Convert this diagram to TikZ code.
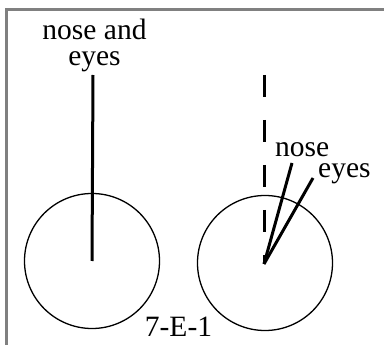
\documentclass[tikz,border=0pt]{standalone}
\usepackage{fontspec}
\setmainfont{Liberation Serif}
\begin{document}
\begin{tikzpicture}[x=1pt,y=-1pt,
  lbl/.style={inner sep=0pt, font=\fontsize{29.5}{26}\selectfont, align=center},
  head/.style={circle, draw=black, line width=1.3pt, minimum size=135pt, inner sep=0pt},
  ray/.style={line width=3pt},
  frame/.style={draw=black!50, line width=3pt}
]
\useasboundingbox (0,0) rectangle (384,345);
% frame (top and left edges)
\draw[frame] (6.5,345) -- (6.5,9.5) -- (384,9.5);
% left head
\node[head] (c1) at (92,261) {};
\coordinate (t1) at (93,75);
\draw[ray] (c1.center) -- (t1);
\node[lbl, anchor=base] (l1) at (94.5,66) {nose and\\eyes};
% right head
\node[head] (c2) at (265,263) {};
\coordinate (d2) at (264,75);
\draw[ray, dash pattern=on 22pt off 23pt] (d2) -- (264,264);
\coordinate (n2) at (292,163);
\coordinate (e2) at (313,178);
\draw[ray] (264,264) -- (n2);
\draw[ray] (264,264) -- (e2);
\node[lbl, anchor=base west] (ln) at (275,157) {nose};
\node[lbl, anchor=base west] (le) at (318,178) {eyes};
% caption
\node[lbl, anchor=base] (cap) at (178.5,337) {7-E-1};
\end{tikzpicture}
\end{document}
